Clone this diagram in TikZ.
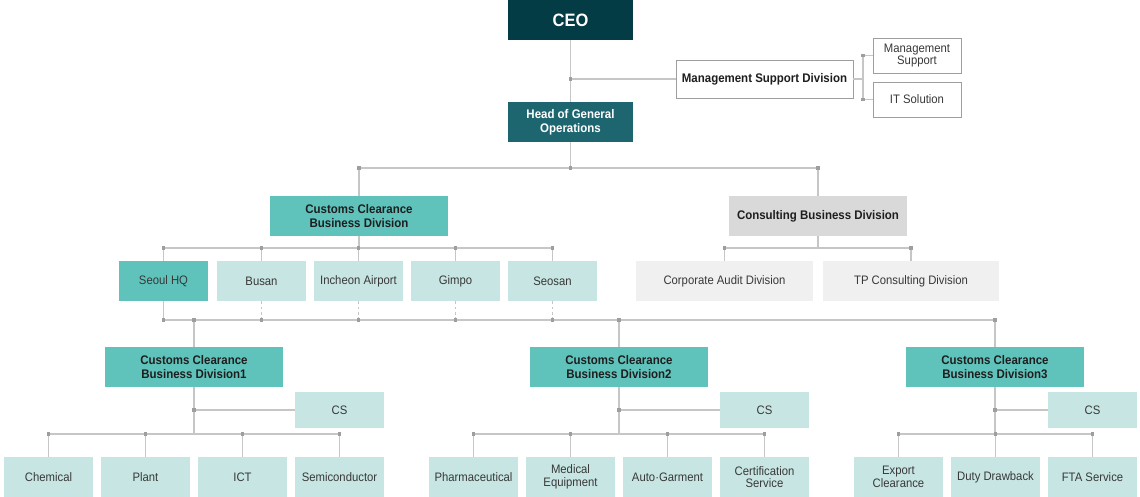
\documentclass[tikz,border=0pt]{standalone}
\usepackage{fontspec}
\setmainfont{Liberation Sans}[FakeStretch=0.92]
\usetikzlibrary{positioning}
\definecolor{ceoc}{HTML}{033C44}
\definecolor{hgoc}{HTML}{1D6670}
\definecolor{tealc}{HTML}{5FC3BC}
\definecolor{palec}{HTML}{C7E6E3}
\definecolor{greyc}{HTML}{D9D9D9}
\definecolor{lightc}{HTML}{F0F0F0}
\definecolor{linec}{HTML}{C6C6C6}
\definecolor{dotc}{HTML}{9E9E9E}
\definecolor{textc}{HTML}{383838}
\definecolor{boldc}{HTML}{1E1E1E}
\newcommand{\jdot}[1]{\fill[dotc] #1 ++(-1.6,-1.6) rectangle ++(3.2,3.2);}
\tikzset{
  box/.style     ={rectangle,inner sep=0pt,align=center,text=textc,
                   font=\fontsize{7}{7.2}\selectfont},
  bbox/.style    ={box,text=boldc,font=\bfseries\fontsize{7.1}{7.8}\selectfont},
  ceobox/.style  ={bbox,fill=ceoc,text=white,minimum width=2.5cm,
                   minimum height=0.8cm,font=\bfseries\fontsize{10.2}{10}\selectfont},
  headbox/.style ={bbox,fill=hgoc,text=white,minimum width=2.5cm,
                   minimum height=0.8cm},
  msdbox/.style  ={bbox,draw=dotc,fill=white,minimum width=3.54cm,
                   minimum height=0.76cm},
  subbox/.style  ={box,draw=dotc,fill=white,minimum width=1.76cm,
                   minimum height=0.7cm},
  divbox/.style  ={bbox,fill=tealc,minimum width=3.56cm,minimum height=0.8cm},
  consbox/.style ={bbox,fill=greyc,minimum width=3.56cm,minimum height=0.8cm},
  branch/.style  ={box,fill=palec,minimum width=1.78cm,minimum height=0.8cm},
  hqbox/.style   ={branch,fill=tealc},
  auditbox/.style={box,fill=lightc,minimum width=3.54cm,minimum height=0.8cm},
  csbox/.style   ={box,fill=palec,minimum width=1.78cm,minimum height=0.72cm},
  link/.style    ={draw=linec,line width=0.6pt},
  dlink/.style   ={link,dash pattern=on 1.5pt off 1.5pt}
}
\begin{document}
\begin{tikzpicture}[x=0.02cm,y=-0.02cm]
  \useasboundingbox (0,0) rectangle (1140,497);

  % Top
  \node (ceo) at (570.5,20)   [ceobox] {CEO};
  \node (hgo) at (570.5,122)  [headbox] {Head of General\\Operations};
  \node (msd) at (764.5,79)   [msdbox] {Management Support Division};
  \node (ms)  at (917,55.5)   [subbox] {Management\\Support};
  \node (its) at (917,99.5)   [subbox] {IT Solution};

  % Business divisions
  \node (ccbd) at (359,216) [divbox] {Customs Clearance\\Business Division};
  \node (cbd)  at (818,216) [consbox] {Consulting Business Division};

  % Branches
  \node (seoul)   at (163.5,281) [hqbox]  {Seoul HQ};
  \node (busan)   at (261.5,281) [branch] {Busan};
  \node (incheon) at (358.5,281) [branch] {Incheon Airport};
  \node (gimpo)   at (455.5,281) [branch] {Gimpo};
  \node (seosan)  at (552.5,281) [branch] {Seosan};
  \node (audit)   at (724.5,281) [auditbox] {Corporate Audit Division};
  \node (tp)      at (911,281)   [auditbox] {TP Consulting Division};

  % Sub divisions
  \node (div1) at (194,367) [divbox] {Customs Clearance\\Business Division1};
  \node (div2) at (619,367) [divbox] {Customs Clearance\\Business Division2};
  \node (div3) at (995,367) [divbox] {Customs Clearance\\Business Division3};
  \node (cs1) at (339.5,410)  [csbox] {CS};
  \node (cs2) at (764.5,410)  [csbox] {CS};
  \node (cs3) at (1092.5,410) [csbox] {CS};

  % Teams
  \node (chem)    at (48.5,477)   [branch] {Chemical};
  \node (plant)   at (145.5,477)  [branch] {Plant};
  \node (ict)     at (242.5,477)  [branch] {ICT};
  \node (semi)    at (339.5,477)  [branch] {Semiconductor};
  \node (pharma)  at (473.5,477)  [branch] {Pharmaceutical};
  \node (medical) at (570.5,477)  [branch] {Medical\\Equipment};
  \node (auto)    at (667.5,477)  [branch] {Auto{\textperiodcentered}Garment};
  \node (cert)    at (764.5,477)  [branch] {Certification\\Service};
  \node (export)  at (898.5,477)  [branch] {Export\\Clearance};
  \node (duty)    at (995.5,477)  [branch] {Duty Drawback};
  \node (fta)     at (1092.5,477) [branch] {FTA Service};

  % Rails
  \coordinate (r1) at (0,168);
  \coordinate (r2) at (0,248);
  \coordinate (r3) at (0,320);
  \coordinate (r4) at (0,434);
  \coordinate (bk) at (863,79);

  % CEO level
  \draw[link] (ceo) -- (hgo);
  \draw[link] (ceo.south |- msd.west) -- (msd);
  \jdot{(ceo.south |- msd.west)}
  \draw[link] (msd) -- (bk);
  \draw[link] (bk |- ms.west) -- (bk |- its.west);
  \foreach \n in {ms,its} {
    \draw[link] (bk |- \n.west) -- (\n);
    \jdot{(bk |- \n.west)}
  }

  % Head level
  \draw[link] (hgo) -- (hgo |- r1);
  \draw[link] (ccbd |- r1) -- (cbd |- r1);
  \jdot{(hgo |- r1)}
  \foreach \n in {ccbd,cbd} {
    \draw[link] (\n |- r1) -- (\n);
    \jdot{(\n |- r1)}
  }

  % Branch level
  \draw[link] (ccbd) -- (ccbd |- r2);
  \draw[link] (seoul |- r2) -- (seosan |- r2);
  \draw[link] (cbd) -- (cbd |- r2);
  \draw[link] (audit |- r2) -- (tp |- r2);
  \foreach \n in {seoul,busan,incheon,gimpo,seosan,audit,tp} {
    \draw[link] (\n |- r2) -- (\n);
    \jdot{(\n |- r2)}
  }

  % Sub division level
  \draw[link] (seoul) -- (seoul |- r3);
  \foreach \n in {busan,incheon,gimpo,seosan}
    \draw[dlink] (\n) -- (\n |- r3);
  \draw[link] (seoul |- r3) -- (div3 |- r3);
  \foreach \n in {seoul,busan,incheon,gimpo,seosan} {
    \jdot{(\n |- r3)}
  }
  \foreach \n in {div1,div2,div3} {
    \draw[link] (\n |- r3) -- (\n);
    \jdot{(\n |- r3)}
  }

  % Team level
  \foreach \d/\c in {div1/cs1,div2/cs2,div3/cs3} {
    \draw[link] (\d) -- (\d |- r4);
    \draw[link] (\d |- \c.west) -- (\c);
    \jdot{(\d |- \c.west)}
  }
  \draw[link] (chem |- r4) -- (semi |- r4);
  \draw[link] (pharma |- r4) -- (cert |- r4);
  \draw[link] (export |- r4) -- (fta |- r4);
  \foreach \n in {chem,plant,ict,semi,pharma,medical,auto,cert,export,duty,fta} {
    \draw[link] (\n |- r4) -- (\n);
    \jdot{(\n |- r4)}
  }
\end{tikzpicture}
\end{document}
